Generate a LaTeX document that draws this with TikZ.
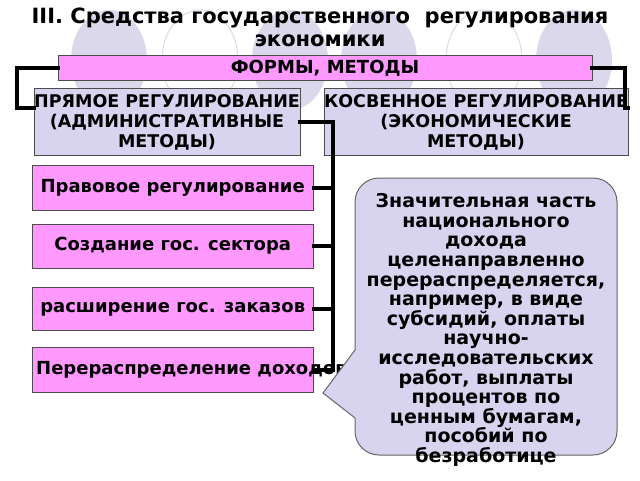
\documentclass[tikz,border=0pt]{standalone}
\usepackage{fontspec}
\setmainfont{DejaVu Sans}
\usetikzlibrary{positioning}
\definecolor{pinkbox}{HTML}{FF99FF}
\definecolor{lilac}{HTML}{D8D3EE}
\definecolor{ghost}{HTML}{DCD8EC}
\begin{document}
\begin{tikzpicture}[x=1pt,y=-1pt]
   \tikzset{formbox/.style={draw=black!70, fill=pinkbox, font=\bfseries\fontsize{18}{20}\selectfont, inner sep=0pt},
            kindbox/.style={draw=black!70, fill=lilac, font=\bfseries\fontsize{17.5}{20}\selectfont, align=center, inner sep=0pt},
            link/.style={line width=3.5pt, line join=miter, line cap=rect}}
   \useasboundingbox (0,0) rectangle (640,480);
   \clip (0,0) rectangle (640,480);

   % background circles
   \foreach \cx/\kind in {109/fill, 200/draw, 290/fill, 379/fill, 484/draw, 574/fill}
      \path[\kind=ghost, line width=1pt] (\cx,60) ellipse (38 and 50);

   \node[font=\bfseries\fontsize{21}{23}\selectfont, align=center] (title) at (320,27)
      {III. Средства государственного\ \ регулирования\\экономики};

   \node[formbox, minimum width=534, minimum height=25] (forms) at (325,68) {ФОРМЫ, МЕТОДЫ};
   \node[kindbox, minimum width=260, minimum height=67] (direct) at (167,122)
      {ПРЯМОЕ РЕГУЛИРОВАНИЕ\\(АДМИНИСТРАТИВНЫЕ\\МЕТОДЫ)};
   \node[kindbox, minimum width=260, minimum height=67] (indirect) at (476,122)
      {КОСВЕННОЕ РЕГУЛИРОВАНИЕ\\(ЭКОНОМИЧЕСКИЕ\\МЕТОДЫ)};

   \node[formbox, minimum width=281, minimum height=45, anchor=west] (law) at (32,188) {Правовое регулирование};
   \node[formbox, minimum width=281, minimum height=44, anchor=west] (sector) at (32,246) {Создание гос. сектора};
   \node[formbox, minimum width=281, minimum height=43, anchor=west] (orders) at (32,309) {расширение гос. заказов};
   \node[formbox, minimum width=281, minimum height=45, anchor=west] (income) at (32,370) {};
   \node[font=\bfseries\fontsize{18}{20}\selectfont, anchor=west, inner sep=0pt] (incometext) at (36,370) {Перераспределение доходов};

   \coordinate (spine) at (333,122);
   \coordinate (spineend) at (333,370);

   % brackets
   \draw[link] (forms.west) -| (17,108) -- (direct.west |- 0,108);
   \draw[link] (forms.east) -| (625,108) -- (indirect.east |- 0,108);
   \draw[link] (direct.east |- spine) -- (spine) -- (spineend);
   \foreach \b in {law, sector, orders, income}
      \draw[link] (\b.east) -- (\b.east -| spine);

   % callout
   \draw[fill=lilac, draw=black!60, line width=1pt]
      (355,350) [rounded corners=24] -- (355,178) -- (617,178) -- (617,455) -- (355,455)
      [sharp corners] -- (355,418) -- (323,393) -- cycle;
   \node[font=\bfseries\fontsize{19}{19.6}\selectfont, align=center, anchor=north] (note) at (486,190)
      {Значительная часть\\национального\\дохода\\целенаправленно\\перераспределяется,\\например, в виде\\субсидий, оплаты\\научно-\\исследовательских\\работ, выплаты\\процентов по\\ценным бумагам,\\пособий по\\безработице};
\end{tikzpicture}
\end{document}
